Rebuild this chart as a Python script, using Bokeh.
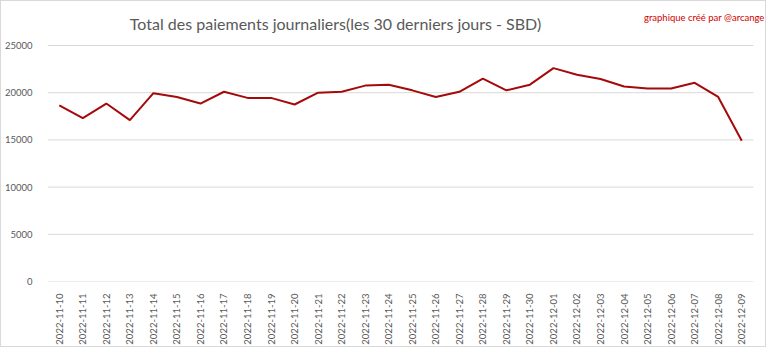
from bokeh.plotting import figure
from bokeh.models import FixedTicker, Label, Range1d
from bokeh.embed import file_html
from bokeh.resources import INLINE
from math import pi

dates = [
    "2022-11-10", "2022-11-11", "2022-11-12", "2022-11-13", "2022-11-14",
    "2022-11-15", "2022-11-16", "2022-11-17", "2022-11-18", "2022-11-19",
    "2022-11-20", "2022-11-21", "2022-11-22", "2022-11-23", "2022-11-24",
    "2022-11-25", "2022-11-26", "2022-11-27", "2022-11-28", "2022-11-29",
    "2022-11-30", "2022-12-01", "2022-12-02", "2022-12-03", "2022-12-04",
    "2022-12-05", "2022-12-06", "2022-12-07", "2022-12-08", "2022-12-09",
]
payments = [
    18650, 17300, 18850, 17100, 19950,
    19550, 18850, 20100, 19450, 19450,
    18750, 20000, 20100, 20750, 20850,
    20250, 19550, 20100, 21500, 20250,
    20850, 22600, 21900, 21450, 20650,
    20450, 20450, 21050, 19550, 14900,
]
y_ticks = [0, 5000, 10000, 15000, 20000, 25000]
title_text = "Total des paiements journaliers(les 30 derniers jours - SBD)"
credit_text = "graphique créé par @arcange"

FONT = "Lato"
GREY = "#595959"

idx = list(range(len(dates)))
x_lo, x_hi = -0.5, len(dates) - 0.5

p = figure(
    width=766, height=347,
    x_range=Range1d(x_lo, 30.095), y_range=Range1d(0, 29661),
    output_backend="svg", toolbar_location=None,
    min_border_left=46, min_border_right=0, min_border_top=0, min_border_bottom=67,
)
p.styles = {"border": "1px solid #d9d9d9"}
p.outline_line_color = None
p.background_fill_color = "white"

# horizontal gridlines spanning the category area only
p.segment(x0=[x_lo] * len(y_ticks), x1=[x_hi] * len(y_ticks), y0=y_ticks, y1=y_ticks,
          line_color="#d9d9d9", line_width=1)

p.line(x=idx, y=payments, line_color="#a50a0a", line_width=2)

p.xgrid.grid_line_color = None
p.ygrid.grid_line_color = None
p.yaxis.ticker = FixedTicker(ticks=y_ticks)
p.xaxis.ticker = FixedTicker(ticks=idx)
p.xaxis.major_label_overrides = {i: d for i, d in zip(idx, dates)}
p.xaxis.bounds = (x_lo, x_hi)

for ax in (p.xaxis[0], p.yaxis[0]):
    ax.major_tick_line_color = None
    ax.minor_tick_line_color = None
    ax.major_label_text_font = FONT
    ax.major_label_text_font_size = "9.5px"
    ax.major_label_text_color = GREY

p.yaxis.axis_line_color = None
p.yaxis.major_label_standoff = 9
p.xaxis.axis_line_color = None
p.xaxis.major_label_orientation = pi / 2
p.xaxis.major_label_standoff = 6

p.add_layout(Label(
    x=11.74, y=27330, text=title_text,
    text_font=FONT, text_font_size="16px", text_color=GREY,
    text_align="center", text_baseline="middle",
))
p.add_layout(Label(
    x=29.97, y=27966, text=credit_text,
    text_font=FONT, text_font_size="9.5px", text_color="#d00000",
    text_align="right", text_baseline="middle",
))

open("out.html", "w").write(file_html(p, INLINE))
